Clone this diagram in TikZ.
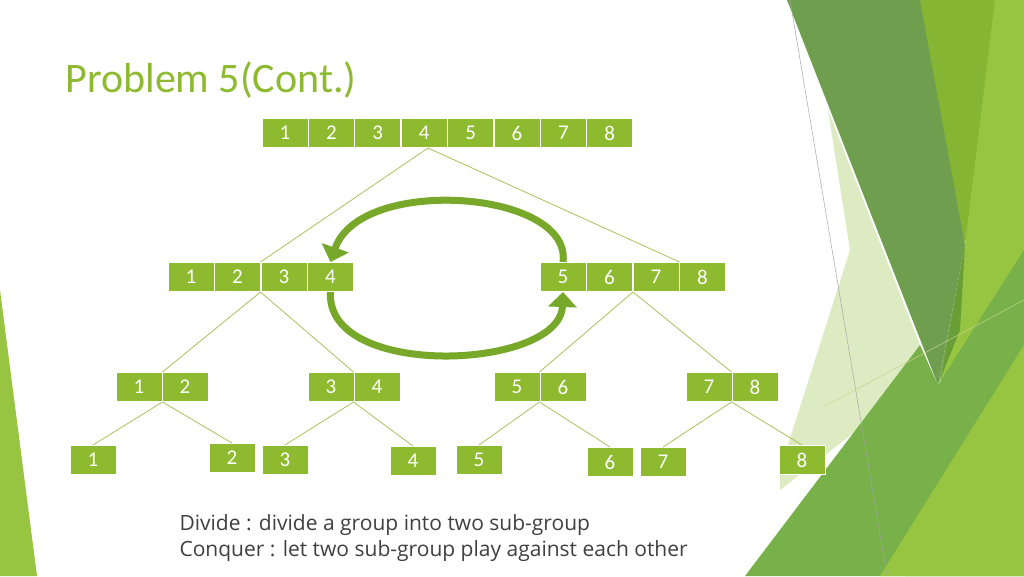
\documentclass[tikz,border=0pt]{standalone}
\usepackage{fontspec}
\setmainfont{Carlito}
\newfontfamily\bodyfont{Open Sans}
\usetikzlibrary{arrows.meta}
\definecolor{cellg}{HTML}{8DBA2E}
\definecolor{lineg}{HTML}{A9C25A}
\definecolor{arrg}{HTML}{78A82A}
\definecolor{bgA}{HTML}{6E9E4E}
\definecolor{bgB}{HTML}{86B533}
\definecolor{bgC}{HTML}{97C541}
\definecolor{bgD}{HTML}{78B04A}
\definecolor{bgE}{HTML}{DDEBC3}
\definecolor{bgF}{HTML}{5E9433}
\tikzset{
  cell/.style={fill=cellg, draw=white, line width=1pt, minimum width=46pt, minimum height=29pt, inner sep=0pt, text=white, font=\fontsize{21}{21}\selectfont},
  tree/.style={draw=lineg, line width=0.8pt},
  swap/.style={draw=arrg, line width=7pt, -{Triangle[width=28pt,length=15pt]}}
}
\begin{document}
\begin{tikzpicture}[x=1pt,y=-1pt]
\useasboundingbox (0,0) rectangle (1024,576);
\fill[white] (0,0) rectangle (1024,576);
% background decoration
\fill[bgE] (828,110) -- (920,345) -- (870,420) -- (780,490) -- (780,470) -- (850,250) -- cycle;
\fill[bgA] (787,0) -- (927,0) -- (965,245) -- (938,385) -- cycle;
\fill[bgB] (920,0) -- (1000,0) -- (965,245) -- cycle;
\fill[bgC] (995,0) -- (1024,0) -- (1024,576) -- (905,576) -- (965,245) -- cycle;
\fill[bgF,opacity=0.8] (938,385) -- (965,245) -- (960,330) -- cycle;
\fill[bgD] (745,576) -- (920,345) -- (938,385) -- (1024,250) -- (1024,576) -- cycle;
\fill[bgC] (880,576) -- (1024,345) -- (1024,576) -- cycle;
\draw[gray!70, line width=0.5pt] (790,0) -- (887,576);
\draw[lineg!70, line width=0.5pt] (825,406) -- (1024,300);
\fill[bgC] (0,290) -- (37,576) -- (0,576) -- cycle;
% title
\node[anchor=west, text=cellg, font=\fontsize{42}{42}\selectfont] (title) at (62,80) {Problem 5(Cont.)};
% level 1
\foreach \n [count=\i] in {1,...,8} \node[cell] (t\n) at (262+23+46.4*\i-46.4,133) {\n};
% level 2
\foreach \n [count=\i] in {1,2,3,4} \node[cell] (l\n) at (168+23+46.5*\i-46.5,277) {\n};
\foreach \n [count=\i] in {5,6,7,8} \node[cell] (r\n) at (540+23+46.5*\i-46.5,277) {\n};
% level 3
\node[cell] (a1) at (139,387) {1}; \node[cell] (a2) at (185,387) {2};
\node[cell] (b3) at (331,387) {3}; \node[cell] (b4) at (377,387) {4};
\node[cell] (c5) at (517,387) {5}; \node[cell] (c6) at (563,387) {6};
\node[cell] (d7) at (709,387) {7}; \node[cell] (d8) at (755,387) {8};
% level 4
\node[cell] (s1) at (93,460) {1};
\node[cell] (s2) at (232,458) {2};
\node[cell] (s3) at (285,460) {3};
\node[cell] (s4) at (413,461) {4};
\node[cell] (s5) at (479,460) {5};
\node[cell] (s6) at (610,462) {6};
\node[cell] (s7) at (663,462) {7};
\node[cell] (s8) at (802,460) {8};
% tree lines
\coordinate (p1) at (428,148);
\draw[tree] (p1) -- (l3.north west); \draw[tree] (p1) -- (r7.north east);
\draw[tree] (l3.south west) -- (a1.north east); \draw[tree] (l3.south west) -- (b4.north west);
\draw[tree] (r6.south east) -- (c6.north west); \draw[tree] (r6.south east) -- (d8.north west);
\draw[tree] (a1.south east) -- (s1.north); \draw[tree] (a1.south east) -- (s2.north);
\draw[tree] (b4.south west) -- (s3.north); \draw[tree] (b4.south west) -- (s4.north);
\draw[tree] (c6.south west) -- (s5.north); \draw[tree] (c6.south west) -- (s6.north);
\draw[tree] (d8.south west) -- (s7.north); \draw[tree] (d8.south west) -- (s8.north);
% swap arrows
\draw[swap] (r5.north) .. controls (572,190) and (360,175) .. (l4.north);
\draw[swap] (l4.south) .. controls (325,380) and (560,370) .. (r5.south);
% text
\node[anchor=west, text=black!75, font=\bodyfont\fontsize{21}{26}\selectfont, align=left] (txt) at (176,538) {Divide : divide a group into two sub-group\\Conquer : let two sub-group play against each other};
\end{tikzpicture}
\end{document}
